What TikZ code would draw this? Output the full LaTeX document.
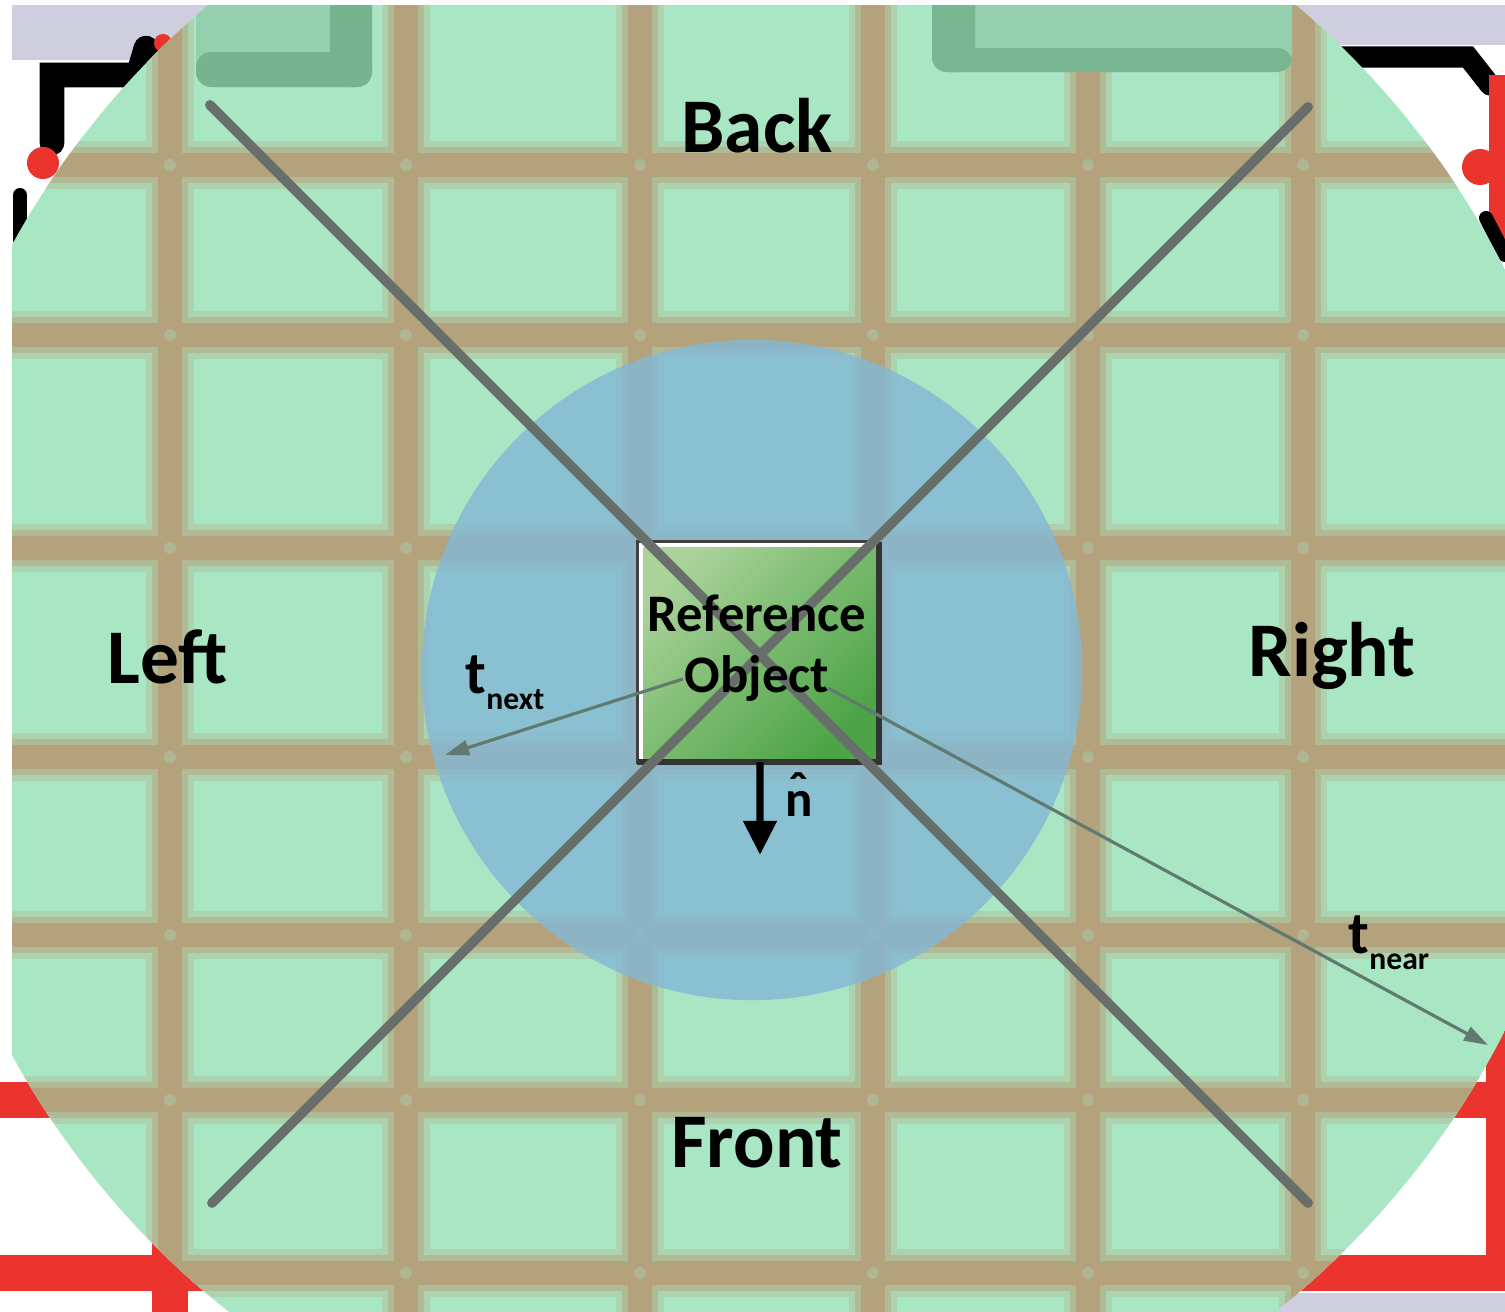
\documentclass[tikz,border=0pt]{standalone}
\usepackage{fontspec}
\setmainfont{Carlito}
\usetikzlibrary{arrows.meta,positioning}
\definecolor{bggreen}{RGB}{168,230,196}
\definecolor{gridtan}{RGB}{180,162,124}
\definecolor{zoneblue}{RGB}{132,185,214}
\definecolor{xgray}{RGB}{104,110,106}
\definecolor{tgray}{RGB}{96,122,112}
\definecolor{shadegreen}{RGB}{92,156,116}
\definecolor{midgreen}{RGB}{148,208,174}
\definecolor{boxlight}{RGB}{170,210,154}
\definecolor{boxdark}{RGB}{76,164,70}
\definecolor{tapered}{RGB}{236,52,46}
\definecolor{lavgray}{RGB}{206,206,222}

\begin{document}
\begin{tikzpicture}[x=0.01cm,y=-0.01cm,
  gridhaze/.style={line width=13.5pt,gridtan!30!bggreen},
  gridsoft/.style={line width=10.5pt,gridtan!65!bggreen},
  gridcore/.style={line width=7pt,gridtan},
  redline/.style={line width=10pt,tapered},
  blackline/.style={line width=6pt,black,line cap=round},
  xline/.style={line width=2.8pt,xgray,line cap=round},
  tarrow/.style={line width=0.9pt,tgray,-{Triangle[length=0.24cm,width=0.15cm]}},
  sidelabel/.style={font=\fontsize{22}{26}\selectfont\bfseries,anchor=base,inner sep=0pt},
  tlabel/.style={font=\fontsize{17}{17}\selectfont\bfseries,anchor=base west,inner sep=0pt}]
  \useasboundingbox (0,0) rectangle (1505,1312);
  \fill[white] (0,0) rectangle (1505,1312);
  % corners outside the circle
  \fill[lavgray] (12,5) rectangle (300,60);
  \fill[lavgray] (1250,5) rectangle (1505,45);
  \fill[lavgray] (1250,1293) rectangle (1505,1312);
  \draw[blackline,line width=7pt] (52,143) -- (52,75) -- (138,75) -- (146,48);
  \draw[blackline,line width=4pt] (20,195) -- (20,240);
  \fill[tapered] (43,163) circle[radius=0.16cm];
  \fill[tapered] (163,43) circle[radius=0.09cm];
  \draw[blackline] (1340,57) -- (1468,57) -- (1490,85);
  \draw[redline,line width=5pt] (1498,75) -- (1498,250);
  \fill[tapered] (1480,167) circle[radius=0.18cm];
  \draw[blackline,line width=4pt] (1486,218) -- (1505,255);
  \draw[redline] (0,1100) -- (1505,1100);
  \draw[redline] (0,1273) -- (1505,1273);
  \draw[redline] (170,1240) -- (170,1312);
  \draw[redline,line width=6pt] (1497,1020) -- (1497,1290);
  % floor seen through the circle
  \begin{scope}
    \clip (12,5) rectangle (1505,1312);
    \clip (752,650) circle[radius=8.43cm];
    \fill[bggreen] (0,0) rectangle (1505,1312);
    \foreach \gstyle in {gridhaze,gridsoft,gridcore} {
      \foreach \gx in {170,406,640,873,1088,1303}
        \draw[\gstyle] (\gx,0) -- (\gx,1312);
      \foreach \gy in {165,335,548,757,935,1100,1273}
        \draw[\gstyle] (0,\gy) -- (1505,\gy);
    }
    \foreach \gx in {170,406,640,873,1088,1303}
      \foreach \gy in {165,335,548,757,935,1100,1273}
        \fill[gridtan!70!bggreen] (\gx,\gy) circle[radius=0.06cm];
    % blurred shapes at the top
    \fill[midgreen,rounded corners=0.2cm] (196,-20) rectangle (372,87);
    \fill[shadegreen!55!midgreen,rounded corners=0.15cm] (196,52) rectangle (372,87);
    \fill[shadegreen!55!midgreen,rounded corners=0.15cm] (330,-20) rectangle (372,87);
    \fill[midgreen,rounded corners=0.2cm] (932,-20) rectangle (1292,72);
    \fill[shadegreen!50!midgreen,rounded corners=0.15cm] (932,48) rectangle (1292,72);
    \fill[shadegreen!50!midgreen,rounded corners=0.15cm] (932,-20) rectangle (975,72);
    % inner zone
    \fill[zoneblue,opacity=0.82] (752,670) circle[radius=3.3cm];
  \end{scope}
  % reference object
  \node[minimum width=2.4cm,minimum height=2.19cm,inner sep=0pt,
        top color=boxlight,bottom color=boxdark,shading angle=45] (refobj) at (758,652) {};
  \draw[white,line width=1.3pt] ([shift={(3,-3)}]refobj.south west) -- ([shift={(3,3)}]refobj.north west) -- ([shift={(-3,3)}]refobj.north east);
  \draw[black!75,line width=0.8pt] (refobj.south west) rectangle (refobj.north east);
  \draw[black!80,line width=1.8pt] (refobj.north east) -- (refobj.south east) -- (refobj.south west);
  % dividing lines
  \coordinate (xtl) at (210,105);
  \coordinate (xbr) at (1308,1203);
  \coordinate (xtr) at (1308,107);
  \coordinate (xbl) at (212,1203);
  \draw[xline] (xtl) -- (xbr);
  \draw[xline] (xtr) -- (xbl);
  % t vectors
  \coordinate (tnextstart) at (683,679);
  \coordinate (tnextend) at (445,755);
  \coordinate (tnearstart) at (828,688);
  \coordinate (tnearend) at (1488,1045);
  \draw[tarrow] (tnextstart) -- (tnextend);
  \draw[tarrow] (tnearstart) -- (tnearend);
  \node[tlabel] (tnext) at (465,693) {t\raisebox{-4.8pt}{\fontsize{9}{9}\selectfont next}};
  \node[tlabel] (tnear) at (1348,953) {t\raisebox{-4.8pt}{\fontsize{9}{9}\selectfont near}};
  % normal
  \coordinate (nend) at (760,855);
  \draw[black,line width=2.1pt,-{Triangle[length=0.34cm,width=0.32cm]}] ([xshift=0.02cm]refobj.south) -- (nend);
  \node[font=\fontsize{14.5}{14.5}\selectfont\bfseries,inner sep=0pt] (nhat) at (799,804)
    {\ooalign{n\cr\hidewidth\raisebox{2.5pt}{ˆ}\hidewidth\cr}};
  \node[font=\fontsize{15}{17.3}\selectfont\bfseries,align=center,inner sep=0pt] (reftext) at (757,648) {Reference\\Object};
  % side names
  \node[sidelabel] (back) at (757,152) {Back};
  \node[sidelabel] (left) at (168,683) {Left};
  \node[sidelabel] (right) at (1332,676) {Right};
  \node[sidelabel] (front) at (757,1167) {Front};
\end{tikzpicture}
\end{document}
